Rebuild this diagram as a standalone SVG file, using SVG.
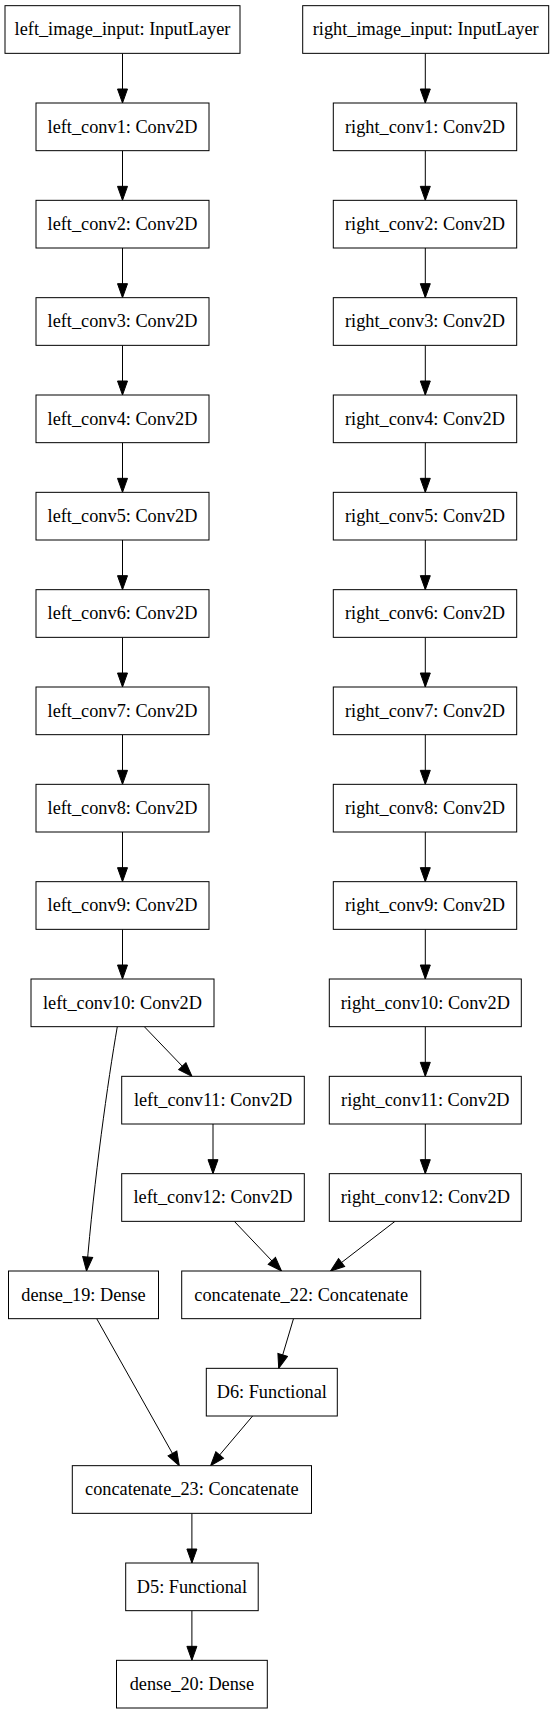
<svg xmlns="http://www.w3.org/2000/svg" width="553" height="1715" viewBox="0 0 553 1715">
<defs>
<style>
.n rect{fill:#fff;stroke:#000;stroke-width:1}
.n text{font-family:"Liberation Serif","Times New Roman",serif;font-size:18.3px;text-anchor:middle;fill:#000}
.e path{fill:none;stroke:#000;stroke-width:1;marker-end:url(#ah)}
</style>
<marker id="ah" markerUnits="userSpaceOnUse" markerWidth="16" markerHeight="12" refX="14" refY="5" orient="auto" viewBox="-1 -1 16 12">
<path d="M0,0 L14,5 L0,10 Z" fill="#000" stroke="#000" stroke-width="1"/>
</marker>
</defs>
<rect x="0" y="0" width="553" height="1715" fill="#fff"/>
<g id="edges" class="e">
<path d="M122.5,53.33 V103"/>
<path d="M122.5,150.67 V200.33"/>
<path d="M122.5,248 V297.67"/>
<path d="M122.5,345.33 V395"/>
<path d="M122.5,442.67 V492.33"/>
<path d="M122.5,540 V589.67"/>
<path d="M122.5,637.33 V687"/>
<path d="M122.5,734.67 V784.33"/>
<path d="M122.5,832 V881.67"/>
<path d="M122.5,929.33 V979"/>
<path d="M425.3,53.33 V103"/>
<path d="M425.3,150.67 V200.33"/>
<path d="M425.3,248 V297.67"/>
<path d="M425.3,345.33 V395"/>
<path d="M425.3,442.67 V492.33"/>
<path d="M425.3,540 V589.67"/>
<path d="M425.3,637.33 V687"/>
<path d="M425.3,734.67 V784.33"/>
<path d="M425.3,832 V881.67"/>
<path d="M425.3,929.33 V979"/>
<path d="M425.3,1026.67 V1076.33"/>
<path d="M425.3,1124 V1173.67"/>
<path d="M144.3,1026.67 L192,1076.33"/>
<path d="M117.3,1026.67 C108,1080 94,1180 86.5,1271"/>
<path d="M213,1124 V1173.67"/>
<path d="M234.3,1221.33 L281.5,1271"/>
<path d="M395,1221.33 L330.5,1271"/>
<path d="M293.5,1318.67 L278.7,1368.33"/>
<path d="M96.7,1318.67 L179.3,1465.67"/>
<path d="M252.6,1416 L210.6,1465.67"/>
<path d="M191.9,1513.33 V1563"/>
<path d="M191.9,1610.67 V1660.33"/>
</g>
<g id="left_image_input" class="n"><rect x="5" y="5.67" width="235" height="47.67"/><text x="122.5" y="35.2">left_image_input: InputLayer</text></g>
<g id="right_image_input" class="n"><rect x="302.7" y="5.67" width="246" height="47.67"/><text x="425.7" y="35.2">right_image_input: InputLayer</text></g>
<g id="left_conv1" class="n"><rect x="36" y="103" width="173" height="47.67"/><text x="122.5" y="132.5">left_conv1: Conv2D</text></g>
<g id="left_conv2" class="n"><rect x="36" y="200.33" width="173" height="47.67"/><text x="122.5" y="229.8">left_conv2: Conv2D</text></g>
<g id="left_conv3" class="n"><rect x="36" y="297.67" width="173" height="47.67"/><text x="122.5" y="327.2">left_conv3: Conv2D</text></g>
<g id="left_conv4" class="n"><rect x="36" y="395" width="173" height="47.67"/><text x="122.5" y="424.5">left_conv4: Conv2D</text></g>
<g id="left_conv5" class="n"><rect x="36" y="492.33" width="173" height="47.67"/><text x="122.5" y="521.8">left_conv5: Conv2D</text></g>
<g id="left_conv6" class="n"><rect x="36" y="589.67" width="173" height="47.67"/><text x="122.5" y="619.2">left_conv6: Conv2D</text></g>
<g id="left_conv7" class="n"><rect x="36" y="687" width="173" height="47.67"/><text x="122.5" y="716.5">left_conv7: Conv2D</text></g>
<g id="left_conv8" class="n"><rect x="36" y="784.33" width="173" height="47.67"/><text x="122.5" y="813.8">left_conv8: Conv2D</text></g>
<g id="left_conv9" class="n"><rect x="36" y="881.67" width="173" height="47.67"/><text x="122.5" y="911.2">left_conv9: Conv2D</text></g>
<g id="left_conv10" class="n"><rect x="31" y="979" width="183" height="47.67"/><text x="122.5" y="1008.5">left_conv10: Conv2D</text></g>
<g id="left_conv11" class="n"><rect x="121.7" y="1076.33" width="182.6" height="47.67"/><text x="213" y="1105.8">left_conv11: Conv2D</text></g>
<g id="left_conv12" class="n"><rect x="121.7" y="1173.67" width="182.6" height="47.67"/><text x="213" y="1203.2">left_conv12: Conv2D</text></g>
<g id="right_conv1" class="n"><rect x="333.3" y="103" width="183.4" height="47.67"/><text x="425" y="132.5">right_conv1: Conv2D</text></g>
<g id="right_conv2" class="n"><rect x="333.3" y="200.33" width="183.4" height="47.67"/><text x="425" y="229.8">right_conv2: Conv2D</text></g>
<g id="right_conv3" class="n"><rect x="333.3" y="297.67" width="183.4" height="47.67"/><text x="425" y="327.2">right_conv3: Conv2D</text></g>
<g id="right_conv4" class="n"><rect x="333.3" y="395" width="183.4" height="47.67"/><text x="425" y="424.5">right_conv4: Conv2D</text></g>
<g id="right_conv5" class="n"><rect x="333.3" y="492.33" width="183.4" height="47.67"/><text x="425" y="521.8">right_conv5: Conv2D</text></g>
<g id="right_conv6" class="n"><rect x="333.3" y="589.67" width="183.4" height="47.67"/><text x="425" y="619.2">right_conv6: Conv2D</text></g>
<g id="right_conv7" class="n"><rect x="333.3" y="687" width="183.4" height="47.67"/><text x="425" y="716.5">right_conv7: Conv2D</text></g>
<g id="right_conv8" class="n"><rect x="333.3" y="784.33" width="183.4" height="47.67"/><text x="425" y="813.8">right_conv8: Conv2D</text></g>
<g id="right_conv9" class="n"><rect x="333.3" y="881.67" width="183.4" height="47.67"/><text x="425" y="911.2">right_conv9: Conv2D</text></g>
<g id="right_conv10" class="n"><rect x="329.3" y="979" width="192" height="47.67"/><text x="425.3" y="1008.5">right_conv10: Conv2D</text></g>
<g id="right_conv11" class="n"><rect x="329.3" y="1076.33" width="192" height="47.67"/><text x="425.3" y="1105.8">right_conv11: Conv2D</text></g>
<g id="right_conv12" class="n"><rect x="329.3" y="1173.67" width="192" height="47.67"/><text x="425.3" y="1203.2">right_conv12: Conv2D</text></g>
<g id="dense_19" class="n"><rect x="8.5" y="1271" width="150" height="47.67"/><text x="83.5" y="1300.5">dense_19: Dense</text></g>
<g id="concatenate_22" class="n"><rect x="181.7" y="1271" width="239" height="47.67"/><text x="301.2" y="1300.5">concatenate_22: Concatenate</text></g>
<g id="D6" class="n"><rect x="206.3" y="1368.33" width="131" height="47.67"/><text x="271.8" y="1397.8">D6: Functional</text></g>
<g id="concatenate_23" class="n"><rect x="72.3" y="1465.67" width="239.2" height="47.67"/><text x="191.9" y="1495.2">concatenate_23: Concatenate</text></g>
<g id="D5" class="n"><rect x="125.7" y="1563" width="132.5" height="47.67"/><text x="191.9" y="1592.5">D5: Functional</text></g>
<g id="dense_20" class="n"><rect x="116.5" y="1660.33" width="150.8" height="47.67"/><text x="191.9" y="1689.8">dense_20: Dense</text></g>
</svg>
